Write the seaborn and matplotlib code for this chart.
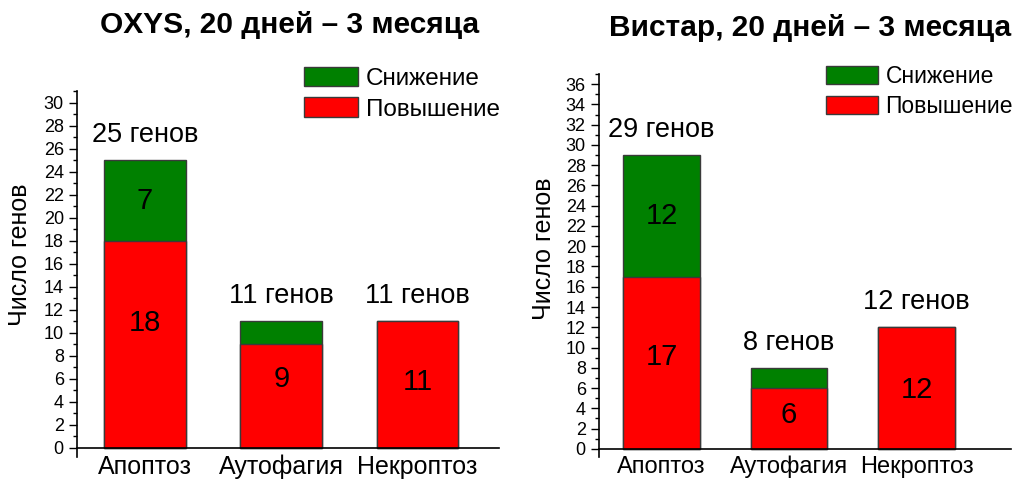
import numpy as np
import pandas as pd
import matplotlib
matplotlib.use("Agg")
import matplotlib.pyplot as plt
from matplotlib.patches import Patch
from matplotlib.ticker import MultipleLocator
import seaborn as sns

# ---- data ----
categories = ["Апоптоз", "Аутофагия", "Некроптоз"]
oxys_up = [18, 9, 11]
oxys_down = [7, 2, 0]
wistar_up = [17, 6, 12]
wistar_down = [12, 2, 0]
titles = ["OXYS, 20 дней – 3 месяца", "Вистар, 20 дней – 3 месяца"]
legend_labels = ["Снижение", "Повышение"]
y_label = "Число генов"
total_suffix = "генов"

sns.set_style("white")
plt.rcParams["font.family"] = ["Liberation Sans", "DejaVu Sans"]
for k in ["text.color", "axes.labelcolor", "xtick.color", "ytick.color"]:
    plt.rcParams[k] = "black"

GREEN = "#008000"
RED = "#FF0000"
EDGE = "#3a3a3a"

fig = plt.figure(figsize=(10.16, 4.82), dpi=100)

# layout (positions of axes, titles, legends and in-bar label anchors)
panels = [
    dict(up=oxys_up, down=oxys_down, title=titles[0],
         rect=[0.0758, 0.0519, 0.4154, 0.7583], ylim=(-0.8, 31), xlim=(-0.5, 2.6),
         title_xy=(0.2854, 0.948), leg_xy=(0.299, 0.861), ylab_xy=(-0.106, 0.553),
         leg_fs=17.5, leg_hl=2.24, leg_hh=0.85, xtick_fs=18,
         up_label_y=[10.9, 6.0, 5.7]),
    dict(up=wistar_up, down=wistar_down, title=titles[1],
         rect=[0.5896, 0.0519, 0.4055, 0.7946], ylim=(-0.8, 37), xlim=(-0.49, 2.74),
         title_xy=(0.797, 0.942), leg_xy=(0.813, 0.865), ylab_xy=(-0.104, 0.543),
         leg_fs=16.5, leg_hl=2.27, leg_hh=0.87, xtick_fs=17,
         up_label_y=[9.1, 3.35, 5.8]),
]

for p in panels:
    ax = fig.add_axes(p["rect"])
    up = np.array(p["up"])
    down = np.array(p["down"])
    total = up + down
    df = pd.DataFrame({"cat": categories, "total": total, "up": up})
    sns.barplot(data=df, x="cat", y="total", color=GREEN, saturation=1,
                width=0.6, edgecolor=EDGE, linewidth=1.0, ax=ax)
    sns.barplot(data=df, x="cat", y="up", color=RED, saturation=1,
                width=0.6, edgecolor=EDGE, linewidth=1.0, ax=ax)
    ax.set_xlim(*p["xlim"])
    ax.set_ylim(*p["ylim"])
    ax.set_xlabel("")
    ax.set_ylabel(y_label, fontsize=18)
    ax.yaxis.set_label_coords(*p["ylab_xy"])

    for sp in ["top", "right"]:
        ax.spines[sp].set_visible(False)
    ax.spines["bottom"].set_position(("data", 0))
    for sp in ["left", "bottom"]:
        ax.spines[sp].set_color("black")
        ax.spines[sp].set_linewidth(1.2)

    ax.yaxis.set_major_locator(MultipleLocator(2))
    ax.yaxis.set_minor_locator(MultipleLocator(1))
    ax.tick_params(axis="y", which="major", direction="out", length=5.5,
                   width=1.0, labelsize=13, pad=4, left=True, color="black")
    ax.tick_params(axis="y", which="minor", direction="out", length=3,
                   width=1.0, left=True, color="black")
    ax.tick_params(axis="x", which="both", length=0, labelsize=p["xtick_fs"], pad=5)

    for i in range(len(categories)):
        ax.annotate(f"{total[i]} {total_suffix}", xy=(i, total[i]),
                    xytext=(0, 18), textcoords="offset points",
                    ha="center", va="center", fontsize=19.5)
        ax.text(i, p["up_label_y"][i], f"{up[i]}", ha="center", va="center",
                fontsize=21)
        if down[i] >= 4:
            ax.text(i, up[i] + down[i] / 2, f"{down[i]}", ha="center",
                    va="center", fontsize=21)

    fig.text(p["title_xy"][0], p["title_xy"][1], p["title"], ha="center",
             va="center", fontsize=21.5, fontweight="bold")

    handles = [Patch(facecolor=GREEN, edgecolor=EDGE, linewidth=1.0),
               Patch(facecolor=RED, edgecolor=EDGE, linewidth=1.0)]
    fig.legend(handles, legend_labels, loc="upper left",
               bbox_to_anchor=p["leg_xy"], bbox_transform=fig.transFigure,
               frameon=False, fontsize=p["leg_fs"], handlelength=p["leg_hl"],
               handleheight=p["leg_hh"], handletextpad=0.33, labelspacing=0.3,
               borderpad=0, borderaxespad=0)

fig.savefig("out.png", dpi=100)
